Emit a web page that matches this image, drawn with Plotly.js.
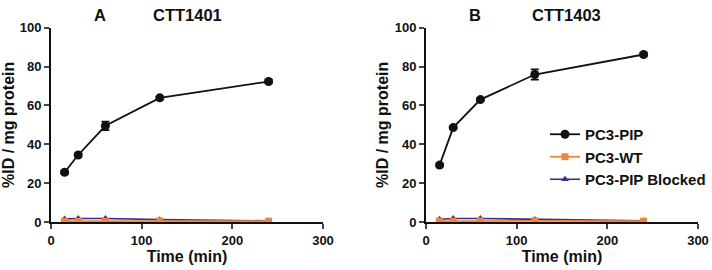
<!DOCTYPE html>
<html><head><meta charset="utf-8">
<script src="https://cdn.plot.ly/plotly-3.0.1.min.js"></script>
<style>html,body{margin:0;padding:0;background:#fff}#c{width:712px;height:270px}</style>
</head><body><div id="c"></div>
<script>
const times = [15, 30, 60, 120, 240];
const pipA = [25.6, 34.5, 49.5, 63.9, 72.3];
const pipAErr = [0.8, 0.8, 2.2, 0.8, 0.8];
const wtA = [0.4, 0.4, 0.4, 0.5, 0.4];
const blkA = [1.6, 1.8, 1.8, 1.2, 0.6];
const pipB = [29.3, 48.6, 63.0, 75.9, 86.2];
const pipBErr = [0.8, 0.8, 0.8, 2.6, 0.8];
const wtB = [0.5, 0.4, 0.5, 0.6, 0.4];
const blkB = [1.4, 1.8, 1.8, 1.3, 0.6];
const seriesNames = ["PC3-PIP", "PC3-WT", "PC3-PIP Blocked"];
const xTicks = [0, 100, 200, 300];
const yTicks = [0, 20, 40, 60, 80, 100];

const colPIP = "#111111", colWT = "#F0843A", colBLK = "#3C2E86";

function traces(xa, ya, pip, pipErr, wt, blk, show) {
  return [
    {x: times, y: blk, xaxis: xa, yaxis: ya, name: seriesNames[2], mode: "lines+markers", showlegend: false,
     line: {color: colBLK, width: 1.6}, marker: {symbol: "triangle-up", size: 7, color: colBLK}},
    {x: times, y: wt, xaxis: xa, yaxis: ya, name: seriesNames[1], mode: "lines+markers", showlegend: false,
     line: {color: colWT, width: 1.8}, marker: {symbol: "square", size: 7, color: colWT}},
    {x: times, y: pip, xaxis: xa, yaxis: ya, name: seriesNames[0], mode: "lines+markers", showlegend: show,
     line: {color: colPIP, width: 1.8}, marker: {symbol: "circle", size: 9, color: colPIP},
     error_y: {type: "data", array: pipErr, color: colPIP, thickness: 1.8, width: 4}},
  ];
}
const data = [
  ...traces("x", "y", pipA, pipAErr, wtA, blkA, false),
  ...traces("x2", "y2", pipB, pipBErr, wtB, blkB, true),
];
data.push({x: [null], y: [null], xaxis: "x2", yaxis: "y2", name: seriesNames[1], mode: "lines+markers",
  line: {color: colWT, width: 1.8}, marker: {symbol: "square", size: 7, color: colWT}});
data.push({x: [null], y: [null], xaxis: "x2", yaxis: "y2", name: seriesNames[2], mode: "lines+markers",
  line: {color: colBLK, width: 1.6}, marker: {symbol: "triangle-up", size: 7, color: colBLK}});

const font = {family: "Liberation Sans, Arial, sans-serif", size: 13, color: "#111", weight: "bold"};
function xax(domain, anchor) {
  return {domain, anchor, range: [0, 300], tickvals: xTicks, ticks: "outside", ticklen: 5, tickwidth: 2,
    showline: true, linewidth: 2, linecolor: "#111", showgrid: false, zeroline: false, automargin: false,
    tickfont: {...font, size: 13}, title: {text: "Time (min)", font: {...font, size: 16}, standoff: 4}};
}
function yax(domain, anchor) {
  return {domain, anchor, range: [0, 100], tickvals: yTicks, ticks: "outside", ticklen: 5, tickwidth: 2,
    showline: true, linewidth: 2, linecolor: "#111", showgrid: false, zeroline: false, automargin: false,
    tickfont: {...font, size: 13}, title: {text: "%ID / mg protein", font: {...font, size: 16}, standoff: 2}};
}
const yd = [48/270, 242.3/270];
const ann = (text, px) => ({text, x: px/712, y: 1 - 15/270, xref: "paper", yref: "paper",
  xanchor: "center", yanchor: "middle", showarrow: false, font: {...font, size: 16.5}});
const layout = {
  width: 712, height: 270, margin: {l: 0, r: 0, t: 0, b: 0},
  paper_bgcolor: "#fff", plot_bgcolor: "#fff", font,
  xaxis: xax([51/712, 323/712], "y"),
  yaxis: yax(yd, "x"),
  xaxis2: xax([426/712, 698/712], "y2"),
  yaxis2: yax(yd, "x2"),
  legend: {x: 545/712, y: 1 - 118/270, xanchor: "left", yanchor: "top", bgcolor: "rgba(0,0,0,0)",
    font: {...font, size: 15}, tracegroupgap: 0, itemwidth: 30},
  annotations: [ann("A", 100), ann("CTT1401", 188), ann("B", 475), ann("CTT1403", 566)],
};
Plotly.newPlot("c", data, layout, {staticPlot: true});
</script></body></html>
